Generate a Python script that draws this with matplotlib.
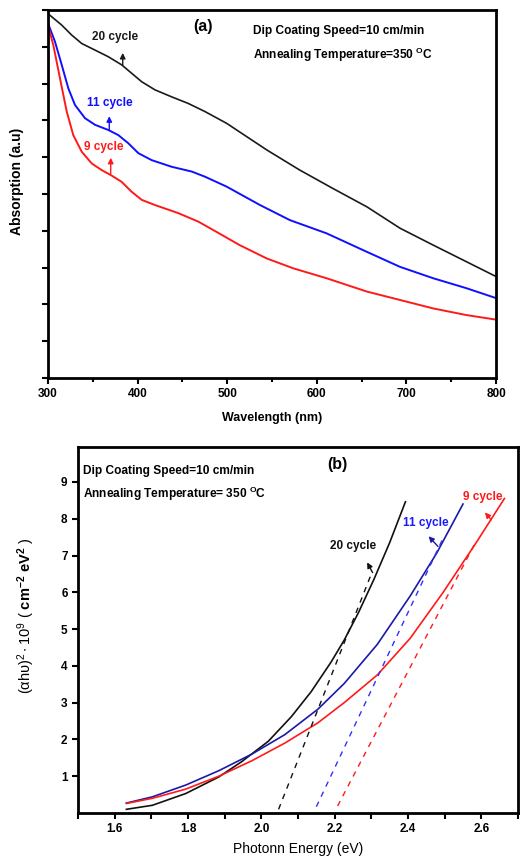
import matplotlib
matplotlib.use("Agg")
import matplotlib.pyplot as plt
import numpy as np

plt.rcParams['font.family'] = ['Liberation Sans', 'DejaVu Sans']
plt.rcParams['mathtext.fontset'] = 'custom'
plt.rcParams['mathtext.rm'] = 'Liberation Sans'
plt.rcParams['mathtext.it'] = 'Liberation Sans:italic'
plt.rcParams['mathtext.bf'] = 'Liberation Sans:bold'

# ---------- Panel (a) data ----------
wl_black = [300, 302, 315.3, 326.4, 337.6, 352.5, 367.3, 382.2, 393.4, 404.6, 419.4, 438, 456.6, 475.2,
            499.4, 544, 581, 618, 656, 692.9, 730, 767, 799]
abs_20 = [9.91, 9.86, 9.59, 9.32, 9.09, 8.91, 8.73, 8.51, 8.28, 8.05, 7.83, 7.64, 7.46, 7.24,
          6.92, 6.2, 5.65, 5.15, 4.65, 4.07, 3.61, 3.16, 2.77]

wl_blue = [300, 307.8, 315.3, 322.7, 330.1, 341.3, 352.5, 367.3, 378.5, 389.6, 400.8, 415.7, 438, 460.4, 475.2,
           499.4, 536.6, 570, 611, 655.7, 692.9, 730, 767, 799]
abs_11 = [9.64, 9.14, 8.51, 7.87, 7.42, 7.06, 6.88, 6.74, 6.6, 6.38, 6.11, 5.92, 5.74, 5.61, 5.47,
          5.2, 4.7, 4.29, 3.93, 3.43, 3.02, 2.71, 2.44, 2.18]

wl_red = [300, 305.9, 313.4, 320.9, 328.2, 337.6, 348.8, 359.9, 371.1, 382.2, 393.4, 404.6, 419.4, 445.4, 467.7,
          484.5, 514, 544, 573.8, 611, 655.7, 692.9, 730, 767, 799]
abs_9 = [9.59, 9.05, 8.14, 7.24, 6.6, 6.15, 5.83, 5.65, 5.5, 5.33, 5.06, 4.84, 4.70, 4.48, 4.25,
         4.02, 3.61, 3.25, 2.98, 2.71, 2.35, 2.12, 1.89, 1.71, 1.59]

# ---------- Panel (b) data ----------
e_black = [1.632, 1.703, 1.794, 1.884, 1.947, 2.019, 2.082, 2.136, 2.19, 2.226, 2.265, 2.307, 2.35, 2.393]
tauc_20 = [0.10, 0.21, 0.53, 0.98, 1.40, 1.95, 2.62, 3.30, 4.10, 4.70, 5.45, 6.35, 7.35, 8.46]

e_blue = [1.632, 1.703, 1.794, 1.884, 1.974, 2.064, 2.154, 2.226, 2.316, 2.406, 2.478, 2.550]
tauc_11 = [0.27, 0.44, 0.76, 1.15, 1.60, 2.13, 2.82, 3.52, 4.58, 5.90, 7.06, 8.40]

e_red = [1.632, 1.703, 1.794, 1.884, 1.974, 2.064, 2.154, 2.226, 2.316, 2.406, 2.496, 2.586, 2.663]
tauc_9 = [0.26, 0.40, 0.65, 1.00, 1.42, 1.90, 2.45, 3.00, 3.75, 4.75, 6.00, 7.35, 8.55]

# linear fits (dashed): [x_start, x_end], [y_start, y_end]
fit20_x = [2.047, 2.300]
fit20_y = [0.10, 6.50]
fit11_x = [2.150, 2.497]
fit11_y = [0.17, 7.50]
fit9_x = [2.208, 2.580]
fit9_y = [0.19, 7.28]

labels = ['20 cycle', '11 cycle', '9 cycle']
colors = ['#1a1a1a', '#1010ff', '#ff1a1a']
colors_b = ['#111111', '#1a1aa8', '#ff1a1a']

fig = plt.figure(figsize=(5.2, 8.59), dpi=100)

# ================= Panel (a) =================
ax1 = fig.add_axes([48/520, 1-378/859, 448/520, 368/859])
ax1.plot(wl_black, abs_20, color=colors[0], lw=1.2)
ax1.plot(wl_blue, abs_11, color=colors[1], lw=1.4)
ax1.plot(wl_red, abs_9, color=colors[2], lw=1.4)
ax1.set_xlim(300, 800)
ax1.set_ylim(0, 10)
ax1.set_xticks(np.arange(300, 801, 100))
ax1.set_xticks(np.arange(300, 801, 50), minor=True)
ax1.set_yticks(np.arange(0, 11, 1))
ax1.set_yticklabels([])
ax1.tick_params(axis='both', which='major', direction='out', length=4, width=1.5)
ax1.tick_params(axis='both', which='minor', direction='out', length=3, width=1.5)
for lab in ax1.get_xticklabels():
    lab.set_fontweight('bold')
    lab.set_fontsize(8.5)
for s in ax1.spines.values():
    s.set_linewidth(2)
ax1.set_xlabel('Wavelength (nm)', fontsize=9, fontweight='bold', labelpad=8)
ax1.set_ylabel('Absorption (a.u)', fontsize=10, fontweight='bold')
ax1.yaxis.set_label_coords(-0.054, 0.535)

ax1.text(473, 9.55, '(a)', fontsize=11.5, fontweight='bold', ha='center', va='center')
ax1.text(529, 9.44, 'Dip Coating Speed=10 cm/min', fontsize=8.6, fontweight='bold', va='center')
ax1.text(529, 8.79, r'Annealing Temperature=350 $^{\mathbf{O}}$C', fontsize=8.6, fontweight='bold', va='center')

arrow_kw = dict(arrowstyle='-|>', lw=1.0, mutation_scale=8)
ax1.text(374.8, 9.27, labels[0], color=colors[0], fontsize=8.5, fontweight='bold', ha='center', va='center')
ax1.annotate('', xy=(383.4, 8.91), xytext=(383.4, 8.42), arrowprops=dict(color=colors[0], **arrow_kw))
ax1.text(369.2, 7.48, labels[1], color=colors[1], fontsize=8.5, fontweight='bold', ha='center', va='center')
ax1.annotate('', xy=(368.4, 7.19), xytext=(368.4, 6.68), arrowprops=dict(color=colors[1], **arrow_kw))
ax1.text(361.7, 6.27, labels[2], color=colors[2], fontsize=8.5, fontweight='bold', ha='center', va='center')
ax1.annotate('', xy=(370, 6.06), xytext=(370, 5.47), arrowprops=dict(color=colors[2], **arrow_kw))

# ================= Panel (b) =================
ax2 = fig.add_axes([78/520, 1-813/859, 440/520, 366/859])
ax2.plot(e_black, tauc_20, color=colors_b[0], lw=1.2)
ax2.plot(e_blue, tauc_11, color=colors_b[1], lw=1.2)
ax2.plot(e_red, tauc_9, color=colors_b[2], lw=1.2)
ax2.plot(fit20_x, fit20_y, color=colors_b[0], lw=1.0, ls=(0, (4, 4)))
ax2.plot(fit11_x, fit11_y, color='#3030ff', lw=1.0, ls=(0, (4, 4)))
ax2.plot(fit9_x, fit9_y, color=colors_b[2], lw=1.0, ls=(0, (4, 4)))
ax2.set_xlim(1.5, 2.689)
ax2.set_ylim(0, 9.95)
ax2.set_xticks([1.6, 1.8, 2.0, 2.2, 2.4, 2.6])
ax2.set_xticks(np.arange(1.5, 2.70, 0.1), minor=True)
ax2.set_yticks(np.arange(1, 10, 1))
ax2.tick_params(axis='both', which='major', direction='out', length=4, width=1.5, labelsize=8.5)
ax2.tick_params(axis='both', which='minor', direction='out', length=4, width=1.5)
for lab in ax2.get_xticklabels() + ax2.get_yticklabels():
    lab.set_fontweight('bold')
for s in ax2.spines.values():
    s.set_linewidth(2)
ax2.set_xlabel('Photonn Energy (eV)', fontsize=10, labelpad=5)
ax2.set_ylabel(r'$(\mathrm{\alpha h\upsilon})^{2}\bullet 10^{9}$ ( $\mathbf{cm}^{\mathbf{-2}}\ \mathbf{eV}^{\mathbf{2}}$ )',
               fontsize=10.5)
ax2.yaxis.set_label_coords(-0.093, 0.538)

ax2.text(2.208, 9.48, '(b)', fontsize=11.5, fontweight='bold', ha='center', va='center')
ax2.text(1.514, 9.30, 'Dip Coating Speed=10 cm/min', fontsize=8.6, fontweight='bold', va='center')
ax2.text(1.514, 8.68, r'Annealing Temperature= 350 $^{\mathbf{O}}$C', fontsize=8.6, fontweight='bold', va='center')

ax2.text(2.251, 7.25, labels[0], color=colors_b[0], fontsize=8.5, fontweight='bold', ha='center', va='center')
ax2.annotate('', xy=(2.285, 6.88), xytext=(2.307, 6.47), arrowprops=dict(color=colors_b[0], **arrow_kw))
ax2.text(2.449, 7.89, labels[1], color='#1a1aff', fontsize=8.5, fontweight='bold', ha='center', va='center')
ax2.annotate('', xy=(2.451, 7.58), xytext=(2.487, 7.19), arrowprops=dict(color=colors_b[1], **arrow_kw))
ax2.text(2.605, 8.58, labels[2], color=colors_b[2], fontsize=8.5, fontweight='bold', ha='center', va='center')
ax2.annotate('', xy=(2.605, 8.23), xytext=(2.632, 7.91), arrowprops=dict(color=colors_b[2], **arrow_kw))

fig.savefig('out.png', dpi=100)
